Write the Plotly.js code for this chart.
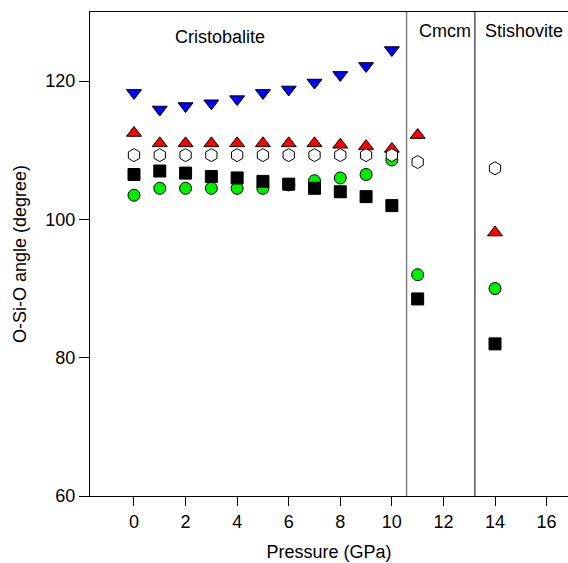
<!DOCTYPE html>
<html>
<head>
<meta charset="utf-8">
<script src="https://cdn.plot.ly/plotly-3.0.1.min.js"></script>
<style>html,body{margin:0;padding:0;background:#fff;}#chart{width:568px;height:563px;}</style>
</head>
<body>
<div id="chart"></div>
<script>
// Pressure points (GPa)
var pressure = [0, 1, 2, 3, 4, 5, 6, 7, 8, 9, 10, 11, 14];
var pressureCristobalite = [0, 1, 2, 3, 4, 5, 6, 7, 8, 9, 10];

// O-Si-O angles (degree)
var angleHexagon = [109.3, 109.3, 109.3, 109.3, 109.3, 109.3, 109.3, 109.3, 109.3, 109.3, 109.3, 108.3, 107.4];
var angleBlue = [118.3, 115.9, 116.4, 116.8, 117.4, 118.3, 118.8, 119.8, 120.9, 122.2, 124.5];
var angleRed = [112.5, 111.0, 111.0, 111.0, 111.0, 111.0, 111.0, 111.0, 110.8, 110.6, 110.2, 112.2, 98.1];
var angleGreen = [103.5, 104.5, 104.5, 104.5, 104.5, 104.5, 105.0, 105.6, 106.0, 106.5, 108.6, 92.0, 90.0];
var angleBlack = [106.5, 107.0, 106.7, 106.2, 106.0, 105.5, 105.1, 104.5, 104.0, 103.3, 102.0, 88.5, 82.0];

// Phase boundaries and labels
var boundaries = [10.57, 13.22];
var phaseLabels = ["Cristobalite", "Cmcm", "Stishovite"];
var phaseLabelX = [3.32, 12.06, 15.13];
var phaseLabelY = [126.45, 127.2, 127.2];

var xTicks = [0, 2, 4, 6, 8, 10, 12, 14, 16];
var yTicks = [60, 80, 100, 120];

function tr(x, y, symbol, color, size) {
  return {
    x: x, y: y, type: 'scatter', mode: 'markers', cliponaxis: false,
    marker: {symbol: symbol, color: color, size: size, line: {color: '#000', width: 1}},
    showlegend: false, hoverinfo: 'x+y'
  };
}

var data = [
  tr(pressure, angleRed, 'triangle-up', '#ff0000', 13),
  tr(pressure, angleGreen, 'circle', '#00ee00', 12),
  tr(pressure, angleBlack, 'square', '#000000', 12),
  tr(pressure, angleHexagon, 'hexagon', '#ffffff', 13),
  tr(pressureCristobalite, angleBlue, 'triangle-down', '#0000ff', 13)
];

var shapes = [
  {type: 'line', xref: 'x', yref: 'paper', x0: boundaries[0], x1: boundaries[0], y0: 0, y1: 1, line: {color: '#808080', width: 1.5}},
  {type: 'line', xref: 'x', yref: 'paper', x0: boundaries[1], x1: boundaries[1], y0: 0, y1: 1, line: {color: '#000000', width: 1}}
];

var annotations = phaseLabels.map(function (t, i) {
  return {x: phaseLabelX[i], y: phaseLabelY[i], xref: 'x', yref: 'y', text: t, showarrow: false,
          xanchor: 'center', yanchor: 'middle', font: {size: 18, color: '#000'}};
});

var font = {family: '"Liberation Sans", Arial, sans-serif', size: 18, color: '#000'};

var layout = {
  width: 568, height: 563,
  margin: {l: 90, r: 0, t: 12, b: 67, pad: 0},
  paper_bgcolor: '#fff', plot_bgcolor: '#fff',
  font: font,
  showlegend: false,
  xaxis: {
    range: [-1.706, 16.83], tickvals: xTicks, ticktext: xTicks.map(String),
    ticks: 'outside', ticklen: 9, tickcolor: '#000', tickwidth: 1,
    showline: true, linecolor: '#000', linewidth: 1, mirror: true,
    showgrid: false, zeroline: false,
    tickfont: {size: 18},
    title: {text: 'Pressure (GPa)', font: {size: 18}, standoff: 14},
    automargin: false
  },
  yaxis: {
    range: [60, 130], tickvals: yTicks, ticktext: yTicks.map(String),
    ticks: 'outside', ticklen: 10, tickcolor: '#000', tickwidth: 1,
    showline: true, linecolor: '#000', linewidth: 1,
    showgrid: false, zeroline: false,
    tickfont: {size: 18},
    title: {text: 'O-Si-O angle (degree)', font: {size: 18}, standoff: 14},
    automargin: false
  },
  shapes: shapes,
  annotations: annotations
};

Plotly.newPlot('chart', data, layout, {displayModeBar: false, staticPlot: true});
</script>
</body>
</html>
